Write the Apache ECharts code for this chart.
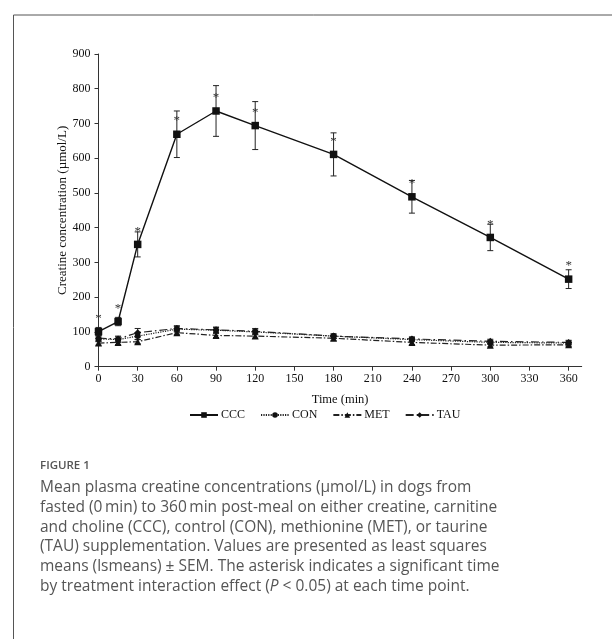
<!DOCTYPE html>
<html><head><meta charset="utf-8">
<script src="https://cdn.jsdelivr.net/npm/echarts@6/dist/echarts.min.js"></script>
<style>html,body{margin:0;padding:0;background:#fff}#c{width:612px;height:639px}</style>
</head><body><div id="c"></div>
<script>
const times = [0, 15, 30, 60, 90, 120, 180, 240, 300, 360];
const xTicks = [0, 30, 60, 90, 120, 150, 180, 210, 240, 270, 300, 330, 360];
const cccMean = [101, 130, 352, 669, 736, 694, 611, 489, 372, 252];
const cccSem = [12, 12, 36, 67, 73, 69, 62, 47, 38, 27];
const conMean = [80, 78, 88, 108, 105, 100, 88, 78, 70, 68];
const conSem = [8, 8, 10, 8, 8, 8, 6, 6, 6, 6];
const metMean = [68, 70, 72, 98, 90, 88, 82, 70, 62, 63];
const metSem = [6, 6, 6, 6, 6, 6, 6, 6, 5, 5];
const tauMean = [82, 80, 98, 110, 106, 102, 88, 80, 73, 70];
const tauSem = [8, 8, 12, 8, 8, 8, 6, 6, 6, 6];
const seriesNames = ['CCC', 'CON', 'MET', 'TAU'];
const captionTitle = 'FIGURE 1';
const captionLines = [
  'Mean plasma creatine concentrations (\u00b5mol/L) in dogs from',
  'fasted (0\u2009min) to 360\u2009min post-meal on either creatine, carnitine',
  'and choline (CCC), control (CON), methionine (MET), or taurine',
  '(TAU) supplementation. Values are presented as least squares',
  'means (lsmeans) \u00b1 SEM. The asterisk indicates a significant time',
  'by treatment interaction effect ({i|P} < 0.05) at each time point.'
];

const serif = '"Liberation Serif", "Times New Roman", serif';
const chart = echarts.init(document.getElementById('c'));

function pts(m) { return times.map((t, i) => [t, m[i]]); }
function errData(m, s) { return times.map((t, i) => [t, m[i] - s[i], m[i] + s[i]]); }
function errSeries(m, s) {
  return {
    type: 'custom', silent: true, z: 1,
    data: errData(m, s),
    renderItem: function (params, api) {
      const hi = api.coord([api.value(0), api.value(2)]);
      const lo = api.coord([api.value(0), api.value(1)]);
      const w = 3;
      const st = { stroke: '#222', lineWidth: 1 };
      return { type: 'group', children: [
        { type: 'line', shape: { x1: hi[0], y1: hi[1], x2: lo[0], y2: lo[1] }, style: st },
        { type: 'line', shape: { x1: hi[0] - w, y1: hi[1], x2: hi[0] + w, y2: hi[1] }, style: st },
        { type: 'line', shape: { x1: lo[0] - w, y1: lo[1], x2: lo[0] + w, y2: lo[1] }, style: st }
      ]};
    }
  };
}

const option = {
  animation: false,
  backgroundColor: '#fff',
  grid: { left: 98.5, top: 54, right: 30.3, bottom: 272.3, containLabel: false },
  xAxis: {
    type: 'value', min: 0, max: 370, interval: 30,
    name: 'Time (min)', nameLocation: 'middle', nameGap: 27, nameMoveOverlap: false,
    nameTextStyle: { fontFamily: serif, fontSize: 12.5, color: '#111' },
    axisLine: { lineStyle: { color: '#333', width: 1 } },
    axisTick: { show: true, length: 4, customValues: xTicks, lineStyle: { color: '#333' } },
    axisLabel: { customValues: xTicks, fontFamily: serif, fontSize: 12, color: '#111', margin: 6 },
    splitLine: { show: false }
  },
  yAxis: {
    type: 'value', min: 0, max: 900, interval: 100,
    name: 'Creatine concentration (\u00b5mol/L)', nameLocation: 'middle', nameGap: 29, nameRotate: 90, nameMoveOverlap: false,
    nameTextStyle: { fontFamily: serif, fontSize: 13, color: '#111' },
    axisLine: { show: true, lineStyle: { color: '#333', width: 1 } },
    axisTick: { show: true, length: 4, lineStyle: { color: '#333' } },
    axisLabel: { fontFamily: serif, fontSize: 12, color: '#111', margin: 8 },
    splitLine: { show: false }
  },
  legend: {
    left: 184, top: 404, itemWidth: 28, itemHeight: 7, itemGap: 15,
    textStyle: { fontFamily: serif, fontSize: 12, color: '#111', padding: [0, 0, 0, -2] },
    data: seriesNames
  },
  series: [
    errSeries(conMean, conSem), errSeries(metMean, metSem), errSeries(tauMean, tauSem), errSeries(cccMean, cccSem),
    { name: 'CON', type: 'line', data: pts(conMean), symbol: 'circle', symbolSize: 6, z: 3,
      itemStyle: { color: '#111' }, lineStyle: { color: '#222', width: 1.2, type: [1.2, 1.2] } },
    { name: 'MET', type: 'line', data: pts(metMean), symbol: 'triangle', symbolSize: 7, z: 3,
      itemStyle: { color: '#111' }, lineStyle: { color: '#222', width: 1.2, type: [6, 2, 1.5, 2] } },
    { name: 'TAU', type: 'line', data: pts(tauMean), symbol: 'diamond', symbolSize: 7, z: 3,
      itemStyle: { color: '#111' }, lineStyle: { color: '#222', width: 1.2, type: [8, 3, 1.5, 3] } },
    { name: 'CCC', type: 'line', data: pts(cccMean), symbol: 'rect', symbolSize: 7.5, z: 4,
      itemStyle: { color: '#111' }, lineStyle: { color: '#111', width: 1.4 },
      label: { show: true, position: 'top', distance: 3, formatter: '*', fontFamily: serif, fontSize: 13, color: '#333' } }
  ],
  graphic: [
    { type: 'rect', left: 11, top: 12.5, shape: { x: 0, y: 0, width: 700, height: 700 },
      style: { fill: 'none', stroke: '#555', lineWidth: 1 }, silent: true, z: -1 },
    { type: 'text', left: 40, top: 460,
      style: { text: captionTitle, fontFamily: '"Open Sans", sans-serif', fontSize: 11.5, fontWeight: 600, fill: '#555' } },
    { type: 'text', left: 40, top: 478,
      style: { text: captionLines.join('\n'), fontFamily: '"Open Sans", sans-serif', fontSize: 15.5, lineHeight: 19.7, fill: '#555',
        rich: { i: { fontStyle: 'italic', fontFamily: '"Open Sans", sans-serif', fontSize: 15.5, lineHeight: 19.7, fill: '#555' } } } }
  ]
};
chart.setOption(option);
</script></body></html>
